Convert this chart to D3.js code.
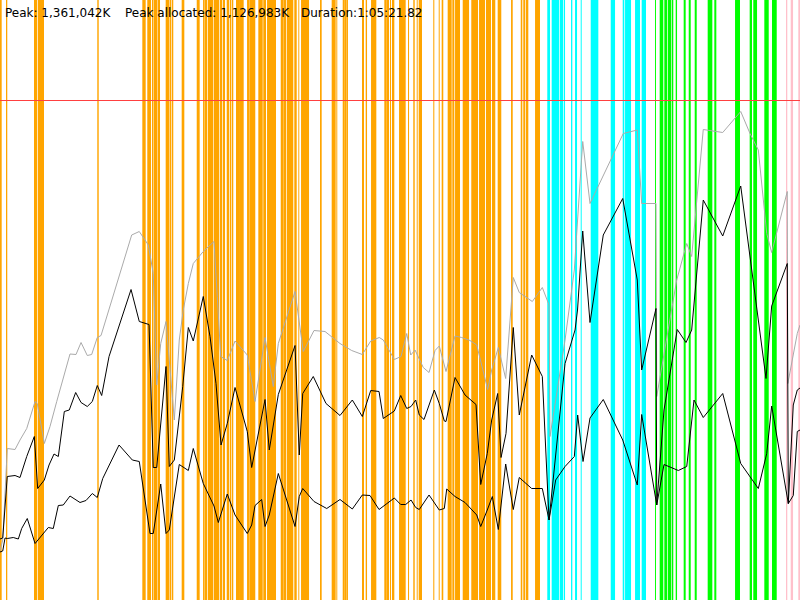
<!DOCTYPE html>
<html>
<head>
<meta charset="utf-8">
<script src="https://cdn.jsdelivr.net/npm/d3@7"></script>
<style>
  html, body { margin: 0; padding: 0; background: #fff; }
  svg { display: block; }
</style>
</head>
<body>
<svg id="chart" width="800" height="600"></svg>
<script>
// Header values
const peakLabel = "Peak: 1,361,042K";
const allocLabel = "Peak allocated: 1,126,983K";
const durationLabel = "Duration:1:05:21.82";

// Time in % of duration, memory in % of peak (peak = 100)
const peakLevel = 100;

// Event bands [start%, end%]
const orangeBands = [[0,0.21],[0.75,0.91],[4.25,4.66],[4.75,5.5],[12.16,12.34],
 [17.79,18.21],[18.41,18.88],[19,19.19],[19.25,19.63],[19.69,20],[20.71,21.13],[21.19,21.38],[21.46,21.66],[22.71,23.04],[24.59,24.96],[25.38,25.5],[25.54,25.91],[26,26.63],[26.71,27.41],
 [27.5,27.75],[27.84,28.13],[28.34,28.66],[28.75,28.88],[28.96,29.16],[29.5,29.88],[29.88,30.46],[30.88,31.13],[31.16,31.91],[32.29,32.84],[32.91,33.25],[33.38,34.5],
 [35.09,35.38],[35.41,35.75],[35.84,36.66],[36.79,37.09],[37.29,37.41],[37.63,38.63],
 [40,40.21],[41.46,41.96],[42.04,42.16],[42.84,43.09],[43.09,43.34],[43.38,43.5],
 [45.25,45.5],[45.71,45.88],[46.38,47.04],[48.04,48.29],[48.29,48.63],[48.75,48.88],[49,49.29],[49.88,50.71],
 [51,51.13],[51.66,51.84],[52.09,52.21],[52.34,52.75],[54.16,54.29],[54.84,54.96],[55.21,55.41],
 [55.96,56.46],[56.54,56.79],[56.88,57.5],[57.84,58.63],[58.91,59.75],[59.88,60.63],[60.75,61.38],[61.5,61.91],[62.21,62.66],[63.88,64.09],[65.09,65.29],[65.41,65.66],[65.75,66.04],[66.88,67.5]];
const cyanBands = [[68.41,68.75],[68.96,69.91],[70,70.41],[70.5,70.63],[71.38,71.54],[71.88,72.13],[72.59,72.71],[73.84,74.79],[76.34,76.88],[77.84,78.04],[78.13,78.88],[79.38,80],[80.21,80.75]];
const greenBands = [[81.88,82],[82.46,82.91],[83.04,83.41],[83.5,83.88],[83.96,84.16],[84.46,84.63],[85.46,85.71],[86.09,86.34],[86.84,87.09],[88.46,89.04],[89.29,89.54],[91.88,92.5],[93.71,94],[94.16,94.63],[95.54,96.09],[96.5,97.09]];
const pinkBands = [[98.25,98.41],[98.84,99.13],[99.79,100]];

// Reserved memory (gray line) [time%, mem%]
const reserved = [[0,9.8],[0.34,12],[0.91,30.3],[1.88,30.1],[2.5,32],[3.34,34.3],[4.38,39.7],[4.66,39.3],[5.54,31.3],[6.25,34.7],[7.09,39.7],[8.75,49.2],[9.5,49.1],[10.13,51.5],[10.91,48.9],[11.46,49.1],[12.16,52.5],[12.63,52.9],[16.46,73],[17.41,73.7],[18.54,71],[19.16,65.3],[19.59,43],[20.09,51.3],[20.75,55.7],[21.79,36],[22.41,52],[22.91,58],[23.54,63.3],[24.16,67.3],[25.41,69.7],[26.75,71.7],[27.16,60.7],[27.59,48.7],[28.41,47.9],[29.38,51.8],[30.91,49],[31.88,39.7],[33.13,52.5],[34.16,42.7],[34.79,51.3],[36.88,61.7],[37.91,49.7],[39.25,53.9],[40.63,53.7],[42.5,51.3],[43.96,49.9],[45.29,49.1],[46.34,51.8],[47.41,52.5],[47.91,52],[49.29,48.1],[50.13,48.7],[50.84,53.3],[51.34,49],[51.88,50],[52.91,46.5],[53.63,45.5],[54.38,49.9],[54.91,50.8],[55.75,45.7],[56.88,52.8],[57.71,52.5],[58.75,51.9],[59.59,51],[60.96,42.1],[61.46,46],[62.29,50.5],[63.21,44.3],[64.16,64.5],[64.91,61.5],[66.54,59.7],[67.79,62.5],[68.63,59],[68.75,32.7],[70.63,52],[71.79,66],[72.84,91.7],[73.75,79.3],[77.91,93.3],[79.66,94],[80.21,79.3],[82,79.3],[82.09,40.7],[84.59,64],[85.84,71.3],[86.46,68.7],[87.91,94.1],[90.34,93.5],[92.59,97.7],[93.75,93.3],[94.79,90],[95.84,73.3],[96.46,69.5],[98.41,81.7],[98.48,43.3],[99.66,53.3],[100,55]];

// Allocated memory (upper black line)
const allocated = [[0,12.2],[0.34,12.4],[0.91,24.7],[1.88,24.9],[2.5,24.5],[3.34,28.7],[4.29,32.7],[4.71,22.3],[5.54,24],[6.13,27],[6.75,29.2],[7.29,28.7],[8.04,37.7],[8.66,38],[9.46,41.5],[10.13,39.5],[10.91,38.7],[11.54,39.7],[12.16,42.9],[12.71,40.9],[13.63,48.7],[16.38,62.1],[17.41,55.7],[18.63,55.1],[19.16,26.5],[19.59,26.5],[20.75,46.7],[21.16,26.7],[21.79,28],[22.84,42.7],[23.54,54.5],[24.16,51.8],[25.41,60.7],[26.25,52.7],[27,43.3],[27.63,31],[28.41,35.3],[29.38,42.5],[30.91,33.7],[31.46,26.5],[33.13,40.1],[33.66,30],[34.79,41.1],[36.88,50.9],[37.41,29],[37.84,41.3],[39.16,44.7],[40.75,39.3],[42.5,36.9],[44.04,40],[45.29,36.7],[46.34,41.9],[47.38,41.7],[47.91,36.3],[49.29,37.8],[50.09,40.9],[50.84,38.3],[51.38,38.7],[51.96,40],[52.41,37],[53,36.1],[54.29,42],[54.91,39.3],[55.54,35.8],[55.75,35.7],[56.88,44.5],[58.13,41],[59.5,39.1],[60.09,23.1],[60.91,29.3],[61.46,36],[62.21,41.3],[62.63,28.5],[63.25,33.3],[64.16,54.5],[64.91,37],[66.46,49],[67.79,44.7],[68.63,16],[70.63,47.3],[71.88,54],[72.19,58],[72.84,73.8],[73.75,55.5],[75.41,73],[77.84,80.3],[79.66,64],[80.21,46],[82,58.3],[82.09,19],[83,38],[84.66,54.1],[85.75,51.5],[86.46,54],[87.91,80],[90.34,72.8],[92.59,82.8],[95.75,44.3],[96.46,58.8],[98.41,67.3],[98.54,19.3],[99.16,39],[99.66,42],[100,42.4]];

// Used memory (lower black line)
const used = [[0,9.6],[0.34,9.8],[0.63,12.4],[0.91,12.3],[1.66,12.5],[2.29,12.2],[2.71,14.3],[3.41,16.3],[4.38,11.3],[6.04,14.5],[6.66,14.3],[7.29,18.9],[7.91,19],[8.75,20.8],[10,19.5],[10.75,19.9],[11.54,21.3],[12.16,20.5],[12.84,24.3],[14.88,31],[16.54,28],[17.41,27.7],[18.75,13.3],[19.16,13.3],[20.09,23.2],[20.75,13.3],[21.16,14],[22.41,27.1],[23.54,25.9],[24.16,30.3],[25.41,23.3],[26.75,18.8],[27.29,15.5],[28.41,21.2],[29.38,17],[30.91,13.3],[31.46,15],[31.88,18.9],[32.71,20.1],[33.13,14.7],[33.66,17],[34.79,25.3],[36.88,14.7],[37.41,20.7],[37.84,22.3],[39.25,19.7],[40.84,18.3],[42.5,20.1],[44.04,18.2],[45.29,21],[46.25,20.9],[47.38,18.1],[49.29,20.4],[50.09,19.1],[50.71,19.1],[51.38,20],[51.96,18.5],[52.41,18.1],[53.63,21],[54.91,18],[55.54,18.3],[55.84,22.2],[56.88,20.7],[58.13,19.5],[59.59,17],[60.09,14.7],[60.91,18],[61.54,20.7],[62.29,14.1],[63.21,27.2],[64.16,18.1],[64.91,24.5],[66.46,22.3],[67.79,22.3],[68.63,16],[69.46,24],[70.63,26.7],[71.79,28.7],[72.21,37],[72.88,27.7],[73.75,36.4],[75.41,40.1],[77.84,32],[79.66,23],[80.21,37.1],[82.09,19],[83,27.1],[84.79,25.9],[85.84,26.7],[86.75,40],[87.91,36.5],[90.34,41.3],[92.59,27.3],[94.79,22.3],[95.84,29.3],[96.46,38.8],[98.54,19.3],[99.16,20.9],[99.66,33.7],[100,34]];

const W = 800, H = 600;
const svg = d3.select("#chart");
const x = d3.scaleLinear().domain([0, 100]).range([0, W]);
const y = d3.scaleLinear().domain([0, 100]).range([600, 100]);

const bandSets = [
  {data: orangeBands, color: "#ffa500"},
  {data: cyanBands, color: "#00ffff"},
  {data: greenBands, color: "#00ff00"},
  {data: pinkBands, color: "#ffc0cb"}
];
const bandG = svg.append("g");
bandSets.forEach(s => {
  bandG.selectAll(null).data(s.data).enter().append("rect")
    .attr("x", d => x(d[0]))
    .attr("width", d => Math.max(0.5, x(d[1]) - x(d[0])))
    .attr("y", 0).attr("height", H)
    .attr("fill", s.color);
});

const line = d3.line().x(d => x(d[0])).y(d => y(d[1]));
svg.append("path").datum(reserved).attr("d", line)
  .attr("fill", "none").attr("stroke", "#aaaaaa").attr("stroke-width", 1);
svg.append("path").datum(allocated).attr("d", line)
  .attr("fill", "none").attr("stroke", "#000").attr("stroke-width", 1);
svg.append("path").datum(used).attr("d", line)
  .attr("fill", "none").attr("stroke", "#000").attr("stroke-width", 1);

svg.append("line")
  .attr("x1", 0).attr("x2", W)
  .attr("y1", y(peakLevel) + 0.5).attr("y2", y(peakLevel) + 0.5)
  .attr("stroke", "#ff4040").attr("stroke-width", 1);

const header = [
  {text: peakLabel, x: 5},
  {text: allocLabel, x: 125},
  {text: durationLabel, x: 301}
];
svg.selectAll("text.hdr").data(header).enter().append("text")
  .attr("class", "hdr")
  .attr("x", d => d.x).attr("y", 16.5)
  .attr("font-family", "DejaVu Sans, sans-serif")
  .attr("font-size", 12)
  .attr("fill", "#000")
  .text(d => d.text);
</script>
</body>
</html>
